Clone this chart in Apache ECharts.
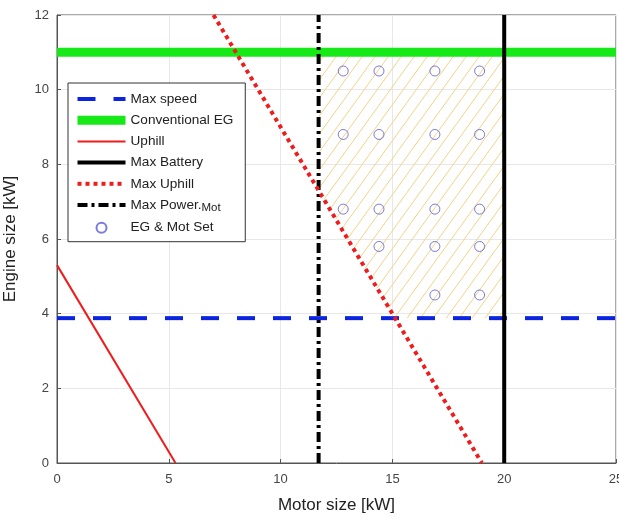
<!DOCTYPE html>
<html>
<head>
<meta charset="utf-8">
<script src="https://cdn.jsdelivr.net/npm/echarts@6/dist/echarts.min.js"></script>
<style>
  html, body { margin: 0; padding: 0; background: #fff; }
  #chart { width: 619px; height: 519px; }
</style>
</head>
<body>
<div id="chart"></div>
<script>
// line data, [motor kW, engine kW]
const maxSpeed = [[0, 3.88], [25, 3.88]];
const conventionalEG = [[0, 11], [25, 11]];
const uphill = [[0, 5.3], [5.3, 0]];
const maxBattery = [[20, 0], [20, 12]];
const maxUphill = [[7.0, 12], [19.0, 0]];
const maxPowerMot = [[11.7, 0], [11.7, 12]];

// feasible region corners
const feasibleRegion = [[11.7, 11], [20, 11], [20, 3.88], [15.12, 3.88], [11.7, 7.3]];

// EG & Mot candidate sets
const setMotor = [12.8, 14.4, 16.9, 18.9, 12.8, 14.4, 16.9, 18.9, 12.8, 14.4, 16.9, 18.9, 14.4, 16.9, 18.9, 16.9, 18.9];
const setEngine = [10.5, 10.5, 10.5, 10.5, 8.8, 8.8, 8.8, 8.8, 6.8, 6.8, 6.8, 6.8, 5.8, 5.8, 5.8, 4.5, 4.5];

const xTicks = [0, 5, 10, 15, 20, 25];
const yTicks = [0, 2, 4, 6, 8, 10, 12];

function hatchPattern() {
  const w = 13, h = 18;
  const c = document.createElement('canvas');
  c.width = w; c.height = h;
  const ctx = c.getContext('2d');
  ctx.strokeStyle = '#f2d38a';
  ctx.lineWidth = 1;
  for (let k = -1; k <= 1; k++) {
    ctx.beginPath();
    ctx.moveTo(k * w, h);
    ctx.lineTo(k * w + w, 0);
    ctx.stroke();
  }
  return c;
}

const chart = echarts.init(document.getElementById('chart'));

const font = 'Liberation Sans, Arial, sans-serif';

function lineSeries(name, data, color, width, type, z) {
  return {
    name: name,
    type: 'line',
    data: data,
    symbol: 'none',
    z: z || 3,
    lineStyle: { color: color, width: width, type: type || 'solid', cap: 'butt' },
    itemStyle: { color: color },
    animation: false
  };
}

// line entries in the legend: no marker, only the line
const lineLegend = (name, width) => ({ name: name, itemStyle: { opacity: 0 }, lineStyle: { width: width } });

const option = {
  animation: false,
  grid: { left: 57, right: 3, top: 15, bottom: 56, outerBoundsMode: 'none' },
  xAxis: {
    type: 'value',
    min: 0, max: 25, interval: 5,
    name: 'Motor size [kW]',
    nameLocation: 'middle',
    nameGap: 34,
    nameTextStyle: { fontFamily: font, fontSize: 17, color: '#222' },
    axisLine: { show: true, lineStyle: { color: '#555', width: 1 } },
    axisTick: { show: true, inside: true, length: 4, lineStyle: { color: '#555' } },
    axisLabel: { fontFamily: font, fontSize: 13, color: '#444', margin: 10,
      formatter: v => xTicks.includes(v) ? String(v) : '' },
    splitLine: { show: true, lineStyle: { color: '#e8e8e8', width: 1 } }
  },
  yAxis: {
    type: 'value',
    min: 0, max: 12, interval: 2,
    name: 'Engine size [kW]',
    nameLocation: 'middle',
    nameGap: 38,
    nameTextStyle: { fontFamily: font, fontSize: 17, color: '#222' },
    axisLine: { show: true, lineStyle: { color: '#555', width: 1 } },
    axisTick: { show: true, inside: true, length: 4, lineStyle: { color: '#555' } },
    axisLabel: { fontFamily: font, fontSize: 13, color: '#444', margin: 8,
      formatter: v => yTicks.includes(v) ? String(v) : '' },
    splitLine: { show: true, lineStyle: { color: '#e8e8e8', width: 1 } }
  },
  graphic: [{
    type: 'rect',
    shape: { x: 57, y: 15, width: 559, height: 448 },
    style: { fill: 'none', stroke: '#555', lineWidth: 1 },
    z: 0,
    silent: true
  }],
  legend: {
    orient: 'vertical',
    left: 68, top: 83,
    padding: [9, 12, 7, 5],
    itemWidth: 48,
    itemHeight: 10,
    itemGap: 7.2,
    borderColor: '#333',
    borderWidth: 1,
    backgroundColor: '#fff',
    textStyle: {
      fontFamily: font, fontSize: 13.6, color: '#222',
      rich: { sub: { fontFamily: font, fontSize: 11.5, color: '#222', padding: [5, 0, 0, 0] } }
    },
    formatter: n => n === 'Max Power.Mot' ? 'Max Power.{sub|Mot}' : n,
    data: [
      lineLegend('Max speed', 4),
      lineLegend('Conventional EG', 9),
      lineLegend('Uphill', 2),
      lineLegend('Max Battery', 4),
      lineLegend('Max Uphill', 4),
      lineLegend('Max Power.Mot', 4),
      'EG & Mot Set'
    ]
  },
  series: [
    {
      name: 'region',
      type: 'custom',
      z: 1,
      data: feasibleRegion,
      renderItem: function (params, api) {
        if (params.dataIndex !== 0) return null;
        const pts = feasibleRegion.map(p => api.coord(p));
        return {
          type: 'polygon',
          shape: { points: pts },
          style: { fill: { image: hatchPattern(), repeat: 'repeat' }, stroke: 'none' }
        };
      },
      silent: true
    },
    lineSeries('Max speed', maxSpeed, '#0a24e0', 4, [18, 18], 3),
    lineSeries('Conventional EG', conventionalEG, '#17e817', 9, 'solid', 2),
    lineSeries('Uphill', uphill, '#ee1c1c', 2, 'solid', 3),
    lineSeries('Max Battery', maxBattery, '#000', 4, 'solid', 3),
    lineSeries('Max Uphill', maxUphill, '#ee1c1c', 4, [4, 4], 4),
    lineSeries('Max Power.Mot', maxPowerMot, '#000', 4, [10, 4, 3, 4], 3),
    {
      name: 'EG & Mot Set',
      type: 'scatter',
      z: 5,
      symbol: 'circle',
      symbolSize: 10,
      data: setMotor.map((x, i) => [x, setEngine[i]]),
      itemStyle: { color: 'rgba(255,255,255,0)', borderColor: '#5a5acf', borderWidth: 1 }
    }
  ]
};

chart.setOption(option);
</script>
</body>
</html>
